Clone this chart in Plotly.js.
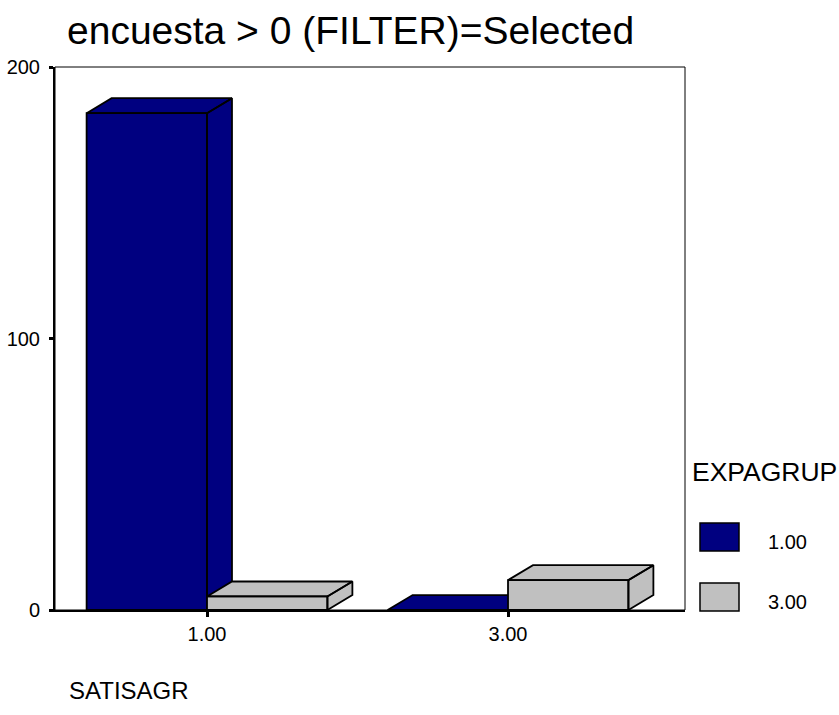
<!DOCTYPE html>
<html>
<head>
<meta charset="utf-8">
<script src="https://cdn.plot.ly/plotly-3.0.1.min.js"></script>
<style>html,body{margin:0;padding:0;background:#fff;}#chart{width:839px;height:715px;}</style>
</head>
<body>
<div id="chart"></div>
<script>
// ---- data ----
var categories = ["1.00", "3.00"];          // SATISAGR
var seriesNames = ["1.00", "3.00"];         // EXPAGRUP
var series1 = [183, 0];                     // EXPAGRUP = 1.00
var series2 = [5, 11];                      // EXPAGRUP = 3.00
var yTicks = [0, 100, 200];
var titleText = "encuesta > 0 (FILTER)=Selected";
var xTitle = "SATISAGR";
var legendTitle = "EXPAGRUP";

// ---- style ----
var colors = ["#000080", "#C0C0C0"];
var FONT = "Liberation Sans, Arial, Helvetica, sans-serif";
var W = 839, H = 715;
var M = {l: 55, r: 154, t: 67, b: 105};
var barW = 0.4, depthX = 0.083, depthY = 5.5;

var allSeries = [series1, series2];
var traces = [];
categories.forEach(function (c, i) {
  allSeries.forEach(function (s, k) {
    var v = s[i];
    var xl = i - barW + k * barW, xr = xl + barW;
    var xs = [], ys = [];
    function poly(px, py) { xs = xs.concat(px, [null]); ys = ys.concat(py, [null]); }
    poly([xl, xr, xr, xl, xl], [0, 0, v, v, 0]);                                   // front
    poly([xl, xr, xr + depthX, xl + depthX, xl], [v, v, v + depthY, v + depthY, v]); // top
    poly([xr, xr + depthX, xr + depthX, xr, xr], [0, depthY, v + depthY, v, 0]);      // side
    traces.push({
      type: "scatter", mode: "lines", x: xs, y: ys, fill: "toself",
      fillcolor: colors[k], line: {color: "#000", width: 1.8},
      hoverinfo: "skip", showlegend: false
    });
  });
});

var pw = W - M.l - M.r, ph = H - M.t - M.b;
function px2x(p) { return (p - M.l) / pw; }
function px2y(p) { return (H - M.b - p) / ph; }

var shapes = [
  {type: "rect", xref: "paper", yref: "paper", x0: 0, x1: 1, y0: 0, y1: 1,
   line: {color: "#000", width: 1}, fillcolor: "rgba(0,0,0,0)", layer: "below"}
];
var annotations = [
  {text: xTitle, xref: "paper", yref: "paper", x: px2x(67), y: px2y(690),
   xanchor: "left", yanchor: "middle", showarrow: false, font: {family: FONT, size: 24, color: "#000"}},
  {text: legendTitle, xref: "paper", yref: "paper", x: px2x(690), y: px2y(472),
   xanchor: "left", yanchor: "middle", showarrow: false, font: {family: FONT, size: 26.5, color: "#000"}}
];
var legendRows = [537, 597];
seriesNames.forEach(function (n, k) {
  var cy = legendRows[k];
  shapes.push({type: "rect", xref: "paper", yref: "paper",
    x0: px2x(700), x1: px2x(739), y0: px2y(cy - 14), y1: px2y(cy + 14),
    fillcolor: colors[k], line: {color: "#000", width: 1.5}});
  annotations.push({text: n, xref: "paper", yref: "paper", x: px2x(766), y: px2y(cy + 5),
    xanchor: "left", yanchor: "middle", showarrow: false, font: {family: FONT, size: 20, color: "#000"}});
});

var layout = {
  width: W, height: H,
  margin: M,
  paper_bgcolor: "#fff", plot_bgcolor: "#fff",
  showlegend: false,
  font: {family: FONT, color: "#000"},
  title: {text: titleText, xref: "container", yref: "container",
          x: 67 / W, xanchor: "left", y: 1 - 30 / H, yanchor: "middle",
          font: {family: FONT, size: 39, color: "#000"}},
  xaxis: {range: [-0.505, 1.588], tickmode: "array",
          tickvals: categories.map(function (c, i) { return i; }), ticktext: categories,
          showgrid: false, zeroline: false, showline: true, linecolor: "#000", linewidth: 2,
          ticks: "outside", ticklen: 5, tickwidth: 3, tickcolor: "#000",
          tickfont: {family: FONT, size: 20, color: "#000"}, fixedrange: true},
  yaxis: {range: [0, 200], tickmode: "array", tickvals: yTicks, ticktext: yTicks.map(String),
          showgrid: false, zeroline: false, showline: true, linecolor: "#000", linewidth: 2,
          ticks: "outside", ticklen: 4, tickwidth: 3, tickcolor: "#000", ticklabelstandoff: 5,
          tickfont: {family: FONT, size: 20, color: "#000"}, fixedrange: true},
  shapes: shapes,
  annotations: annotations
};

Plotly.newPlot("chart", traces, layout, {staticPlot: true});
</script>
</body>
</html>
